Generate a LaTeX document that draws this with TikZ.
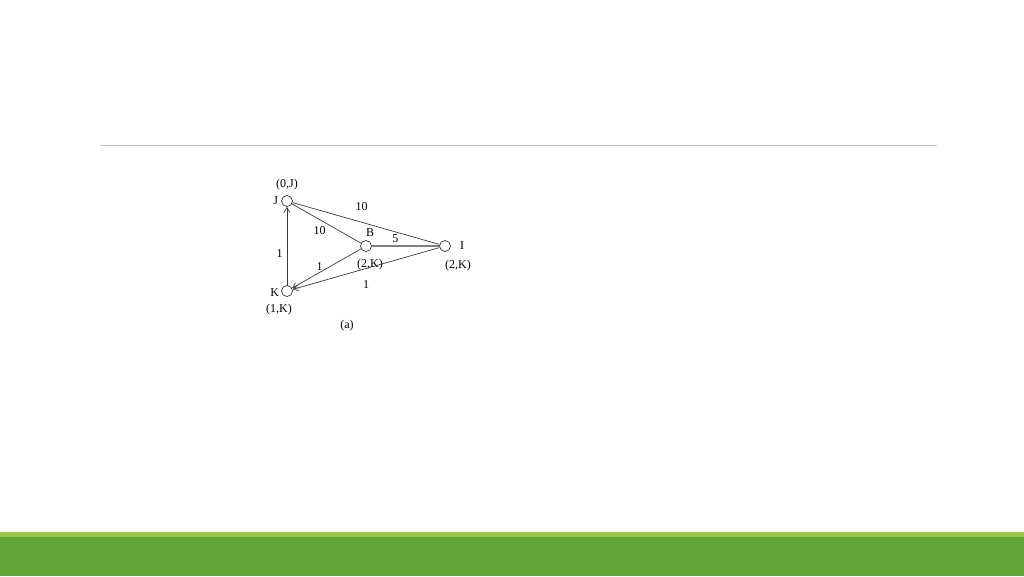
\documentclass[tikz,border=0pt]{standalone}
\usepackage{fontspec}
\setmainfont{Liberation Serif}
\usetikzlibrary{positioning, arrows.meta}
\definecolor{barlight}{HTML}{9CC84A}
\definecolor{bardark}{HTML}{60A337}
\definecolor{rulegray}{HTML}{C4C4C4}
\definecolor{linkgray}{HTML}{3A3A3A}

\begin{document}
\begin{tikzpicture}[x=1pt, y=-1pt,
            vertex/.style={circle, draw=black!80, line width=0.7pt, inner sep=0pt, minimum size=11pt},
            tag/.style={inner sep=1pt, font=\fontsize{12}{14}\selectfont},
            link/.style={draw=linkgray, line width=0.7pt},
            dirlink/.style={link, -{Straight Barb[length=5pt, width=6pt]}}]

            \useasboundingbox (0,0) rectangle (1024,576);
            % slide frame
            \fill[bardark] (0,537) rectangle (1024,576);
            \fill[barlight] (0,532) rectangle (1024,537);
            \draw[rulegray, line width=0.8pt] (100,145) -- (937,145);

            % vertices
            \node[vertex] (J) at (287,201) {};
            \node[vertex] (B) at (366,246) {};
            \node[vertex] (I) at (445,246) {};
            \node[vertex] (K) at (287,291) {};

            % vertex names and labels
            \node[tag, left=2pt of J] (nJ) {J};
            \node[tag, above=4pt of J] (lJ) {(0,J)};
            \node[tag, above=2pt of B, xshift=4pt] (nB) {B};
            \node[tag, below=6pt of B, xshift=4pt] (lB) {(2,K)};
            \node[tag, right=8pt of I] (nI) {I};
            \node[tag, below=7pt of I, xshift=13pt] (lI) {(2,K)};
            \node[tag, left=1pt of K, yshift=-2pt] (nK) {K};
            \node[tag, below=6pt of K, xshift=-8pt] (lK) {(1,K)};
            \node[tag] (cap) at (347,326) {(a)};

            % connectors
            \draw[link] (J) -- (I) node[tag, pos=0.47, above=10pt] {10};
            \draw[link] (J) -- (B) node[tag, pos=0.4, below=6pt] {10};
            \draw[link, draw=gray, line width=1.1pt] (B) -- (I) node[tag, pos=0.35, above=2pt] {5};
            \draw[dirlink] (K) -- (J) node[tag, pos=0.4, left=3pt] {1};
            \draw[dirlink] (B) -- (K) node[tag, pos=0.6, above=1pt] {1};
            \draw[dirlink] (I) -- (K) node[tag, pos=0.5, below=11pt] {1};

\end{tikzpicture}
\end{document}
